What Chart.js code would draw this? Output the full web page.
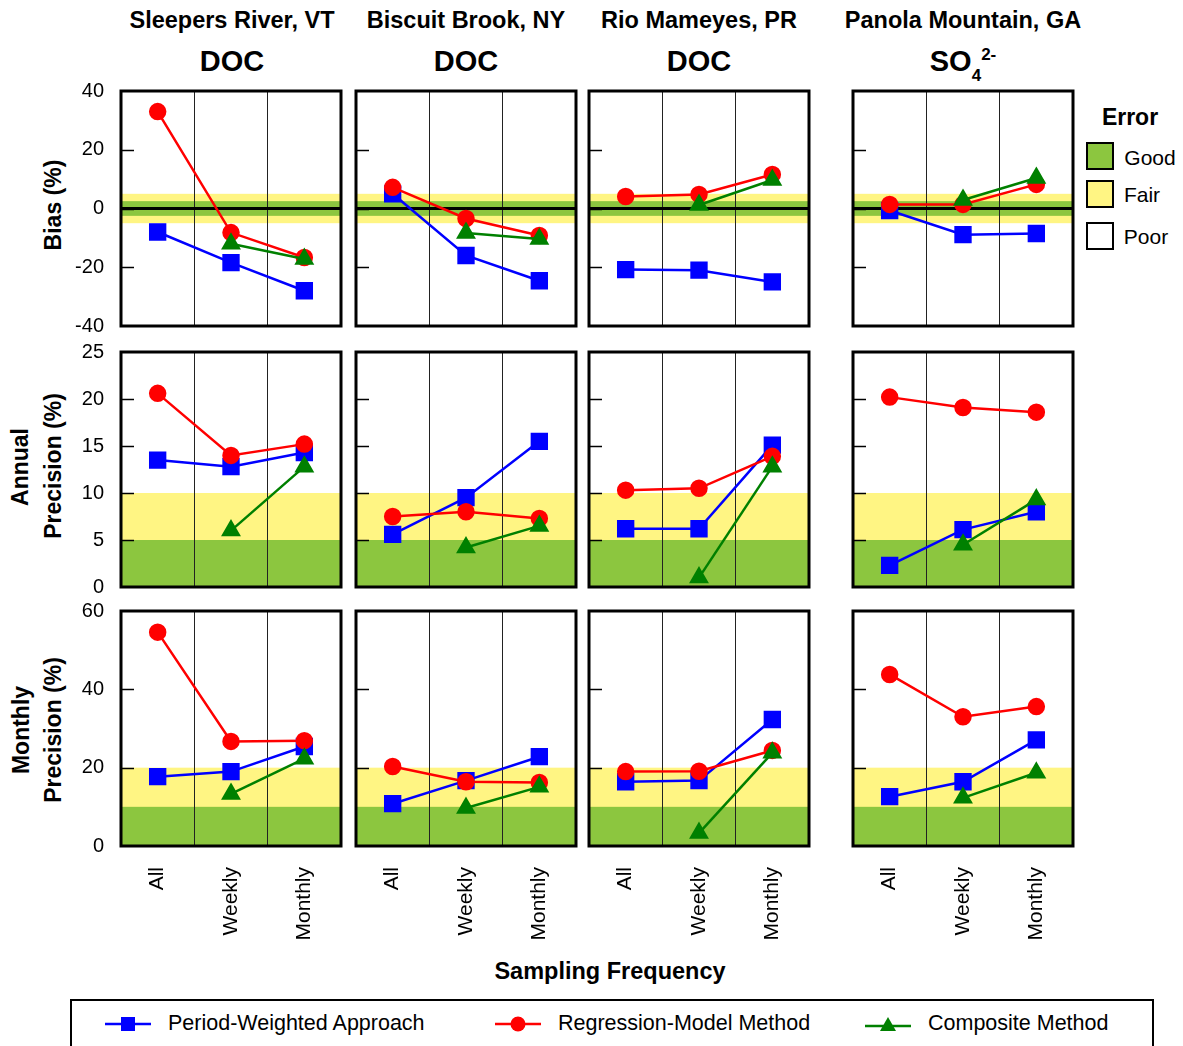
<!DOCTYPE html>
<html>
<head>
<meta charset="utf-8">
<script src="https://cdn.jsdelivr.net/npm/chart.js@4.4.0/dist/chart.umd.min.js"></script>
<style>
  body { margin: 0; background: #fff; font-family: "Liberation Sans", Arial, sans-serif; }
  #wrap { position: relative; width: 1183px; height: 1046px; overflow: hidden; }
  #wrap canvas { position: absolute; }
  .t { position: absolute; white-space: nowrap; color: #000; line-height: 1; transform: translate(-50%, -50%); }
  .rot { transform: translate(-50%, -50%) rotate(-90deg); }
  .b { font-weight: bold; }
  .sw { position: absolute; width: 24px; height: 24px; border: 2px solid #000; }
  #legend { position: absolute; left: 70px; top: 999px; width: 1080px; height: 60px; border: 2px solid #000; }
  #legend .item { position: absolute; top: 10px; font-size: 21.5px; display: flex; align-items: center; }
  #legend svg { margin-right: 17px; }
</style>
</head>
<body>
<div id="wrap">
  <div class="t b" style="left:232px;top:21px;font-size:23.5px">Sleepers River, VT</div>
  <div class="t b" style="left:466px;top:21px;font-size:23.5px">Biscuit Brook, NY</div>
  <div class="t b" style="left:699px;top:21px;font-size:23.5px">Rio Mameyes, PR</div>
  <div class="t b" style="left:963px;top:21px;font-size:23.5px">Panola Mountain, GA</div>
  <div class="t b" style="left:232px;top:61px;font-size:29px">DOC</div>
  <div class="t b" style="left:466px;top:61px;font-size:29px">DOC</div>
  <div class="t b" style="left:699px;top:61px;font-size:29px">DOC</div>
  <div class="t b" style="left:963px;top:61px;font-size:29px">SO<span style="font-size:17px;position:relative;top:10px">4</span><span style="font-size:17px;position:relative;top:-11px">2-</span></div>

  <div class="t b rot" style="left:53px;top:205px;font-size:23px">Bias (%)</div>
  <div class="t b rot" style="left:20px;top:467px;font-size:23px">Annual</div>
  <div class="t b rot" style="left:53px;top:466px;font-size:23px">Precision (%)</div>
  <div class="t b rot" style="left:21px;top:730px;font-size:23px">Monthly</div>
  <div class="t b rot" style="left:53px;top:730px;font-size:23px">Precision (%)</div>

  <div class="t b" style="left:610px;top:972px;font-size:23.5px">Sampling Frequency</div>

  <div class="t b" style="left:1130px;top:117px;font-size:23px">Error</div>
  <div class="sw" style="left:1086px;top:142px;background:#8cc63f"></div>
  <div class="sw" style="left:1086px;top:180px;background:#fff583"></div>
  <div class="sw" style="left:1086px;top:222px;background:#fff"></div>
  <div class="t" style="left:1150px;top:157px;font-size:21px">Good</div>
  <div class="t" style="left:1142px;top:194px;font-size:21px">Fair</div>
  <div class="t" style="left:1146px;top:236px;font-size:21px">Poor</div>

  <div id="legend">
    <div class="item" style="left:33px">
      <svg width="46" height="18"><line x1="0" y1="9" x2="46" y2="9" stroke="#0000ff" stroke-width="2.5"/><rect x="16" y="2" width="14" height="14" fill="#0000ff"/></svg>Period-Weighted Approach
    </div>
    <div class="item" style="left:423px">
      <svg width="46" height="18"><line x1="0" y1="9" x2="46" y2="9" stroke="#ff0000" stroke-width="2.5"/><circle cx="23" cy="9" r="7.5" fill="#ff0000"/></svg>Regression-Model Method
    </div>
    <div class="item" style="left:793px">
      <svg width="46" height="18"><line x1="0" y1="11" x2="46" y2="11" stroke="#008000" stroke-width="2.5"/><polygon points="23,2 31,16 15,16" fill="#008000"/></svg>Composite Method
    </div>
  </div>
</div>

<script>
const categories = ['All', 'Weekly', 'Monthly'];
const seriesNames = ['Period-Weighted Approach', 'Regression-Model Method', 'Composite Method'];

// Bias (%), one row per site
const biasPeriod = [[-8, -18.4, -28], [5, -16, -24.6], [-20.8, -21, -25], [-0.7, -8.9, -8.5]];
const biasRegression = [[33, -8.2, -16.7], [7.2, -3.4, -9.2], [4.1, 4.8, 11.6], [1.4, 1.4, 8.2]];
const biasComposite = [[null, -12, -17.2], [null, -8.3, -10.4], [null, 1.2, 9.7], [null, 2.9, 10.4]];

// Annual precision (%)
const annualPeriod = [[13.5, 12.8, 14.3], [5.6, 9.5, 15.5], [6.2, 6.2, 15.1], [2.3, 6.1, 8.0]];
const annualRegression = [[20.6, 14.0, 15.2], [7.5, 8.0, 7.3], [10.3, 10.5, 13.9], [20.2, 19.1, 18.6]];
const annualComposite = [[null, 6.0, 12.8], [null, 4.2, 6.5], [null, 1.0, 12.8], [null, 4.5, 9.3]];

// Monthly precision (%)
const monthlyPeriod = [[17.7, 19.0, 25.4], [10.8, 16.7, 22.8], [16.4, 16.7, 32.3], [12.6, 16.4, 27.1]];
const monthlyRegression = [[54.6, 26.7, 26.9], [20.3, 16.4, 16.2], [19.0, 19.1, 24.4], [43.8, 33.0, 35.6]];
const monthlyComposite = [[null, 13.3, 22.3], [null, 9.7, 15.1], [null, 3.3, 23.8], [null, 12.3, 18.7]];

// axis ranges per row
const yMin = [-40, 0, 0];
const yMax = [40, 25, 60];
const yStep = [20, 5, 20];
const goodBand = [[-2.5, 2.5], [0, 5], [0, 10]];
const fairBand = [[-5, 5], [0, 10], [0, 20]];

const rowData = [
    [biasPeriod, biasRegression, biasComposite],
    [annualPeriod, annualRegression, annualComposite],
    [monthlyPeriod, monthlyRegression, monthlyComposite]
];

const colors = ['#0000ff', '#ff0000', '#008000'];
const pointStyles = ['rect', 'circle', 'triangle'];
const pointRadius = [10.5, 7.5, 9];
const goodColor = '#8cc63f';
const fairColor = '#fff583';
const fontFamily = '"Liberation Sans", Arial, sans-serif';

// layout
const boxLeft = [121, 356, 589, 853];
const boxTop = [91, 352, 611];
const boxW = 220, boxH = 235;
const axisW = 62, xAxisH = 100, pad = 12;

const panelDecor = {
    id: 'panelDecor',
    beforeDraw(chart, args, opts) {
        const { ctx, chartArea: a, scales: { y } } = chart;
        const r = opts.row;
        ctx.save();
        const band = (lo, hi, col) => {
            const y1 = y.getPixelForValue(hi), y2 = y.getPixelForValue(lo);
            ctx.fillStyle = col;
            ctx.fillRect(a.left, y1, a.width, y2 - y1);
        };
        band(fairBand[r][0], fairBand[r][1], fairColor);
        band(goodBand[r][0], goodBand[r][1], goodColor);
        ctx.restore();
    },
    beforeDatasetsDraw(chart, args, opts) {
        const { ctx, chartArea: a, scales: { y } } = chart;
        ctx.save();
        ctx.strokeStyle = '#000';
        // inward tick marks
        ctx.lineWidth = 1.5;
        y.ticks.forEach(t => {
            if (t.value <= y.min || t.value >= y.max) return;
            const py = Math.round(y.getPixelForValue(t.value)) + 0.5;
            ctx.beginPath();
            ctx.moveTo(a.left, py);
            ctx.lineTo(a.left + 13, py);
            ctx.stroke();
        });
        // zero line for bias
        if (opts.row === 0) {
            const py = y.getPixelForValue(0);
            ctx.lineWidth = 3;
            ctx.beginPath();
            ctx.moveTo(a.left, py);
            ctx.lineTo(a.right, py);
            ctx.stroke();
        }
        ctx.restore();
    },
    afterDraw(chart) {
        const { ctx, chartArea: a } = chart;
        ctx.save();
        ctx.strokeStyle = '#000';
        ctx.lineWidth = 3;
        ctx.strokeRect(a.left, a.top, a.right - a.left, a.bottom - a.top);
        ctx.restore();
    }
};

const wrap = document.getElementById('wrap');

function makePanel(r, c) {
    const hasY = c === 0, hasX = r === 2;
    const w = boxW + 2 * pad + (hasY ? axisW : 0);
    const h = boxH + 2 * pad + (hasX ? xAxisH : 0);
    const cv = document.createElement('canvas');
    cv.width = w; cv.height = h;
    cv.style.width = w + 'px'; cv.style.height = h + 'px';
    cv.style.left = (boxLeft[c] - pad - (hasY ? axisW : 0)) + 'px';
    cv.style.top = (boxTop[r] - pad) + 'px';
    wrap.appendChild(cv);

    const datasets = rowData[r].map((series, i) => ({
        label: seriesNames[i],
        data: series[c],
        borderColor: colors[i],
        backgroundColor: colors[i],
        pointBackgroundColor: colors[i],
        pointBorderColor: colors[i],
        pointStyle: pointStyles[i],
        pointRadius: pointRadius[i],
        borderWidth: 2.5,
        order: 3 - i,
        clip: false
    }));

    new Chart(cv, {
        type: 'line',
        data: { labels: categories, datasets: datasets },
        plugins: [panelDecor],
        options: {
            responsive: false,
            animation: false,
            layout: { padding: pad, autoPadding: false },
            plugins: {
                legend: { display: false },
                tooltip: { enabled: false },
                panelDecor: { row: r }
            },
            scales: {
                x: {
                    type: 'category',
                    offset: true,
                    grid: { offset: true, drawTicks: false, color: '#222', lineWidth: 1 },
                    border: { display: false },
                    ticks: {
                        display: hasX,
                        minRotation: 90,
                        maxRotation: 90,
                        autoSkip: false,
                        padding: 21,
                        color: '#000',
                        font: { family: fontFamily, size: 21 }
                    },
                    afterFit: s => {
                        s.height = hasX ? xAxisH : 0;
                        s.paddingLeft = 0; s.paddingRight = 0;
                    }
                },
                y: {
                    min: yMin[r],
                    max: yMax[r],
                    grid: { display: false, drawTicks: false },
                    border: { display: false },
                    ticks: {
                        display: hasY,
                        stepSize: yStep[r],
                        padding: 17,
                        color: '#000',
                        font: { family: fontFamily, size: 20 }
                    },
                    afterFit: s => {
                        s.width = hasY ? axisW : 0;
                        s.paddingTop = 0; s.paddingBottom = 0;
                    }
                }
            }
        }
    });
}

for (let r = 0; r < 3; r++) {
    for (let c = 0; c < 4; c++) {
        makePanel(r, c);
    }
}
</script>
</body>
</html>
